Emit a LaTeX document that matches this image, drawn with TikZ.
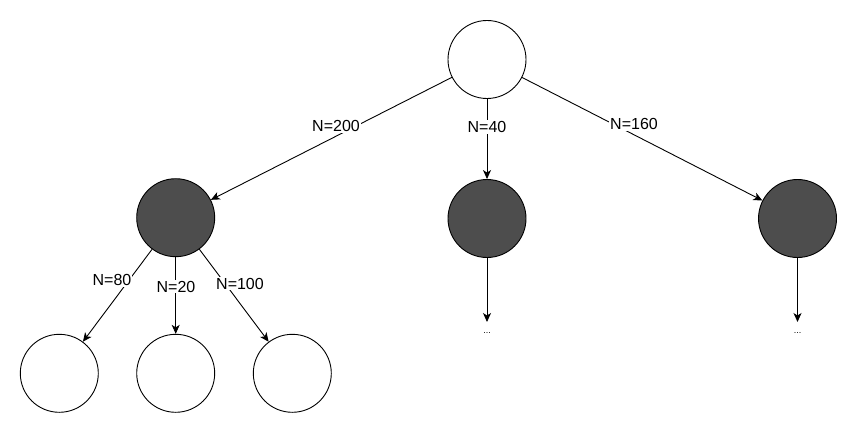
\documentclass[tikz,border=0pt]{standalone}
\usepackage{fontspec}
\setmainfont{Liberation Sans}
\usetikzlibrary{arrows.meta}
\definecolor{darkfill}{HTML}{4D4D4D}
\tikzset{
  circw/.style={circle, draw=black, line width=0.9pt, fill=white, minimum size=78pt, inner sep=0pt},
  circd/.style={circle, draw=black, line width=0.9pt, fill=darkfill, minimum size=78pt, inner sep=0pt},
  arr/.style={draw=black, line width=0.9pt, -{Stealth[length=9pt, width=8pt, inset=2.5pt]}},
  lbl/.style={fill=white, inner sep=1pt, font=\fontsize{16}{18}\selectfont},
  dots/.style={inner sep=0pt, font=\fontsize{9}{10}\selectfont}
}
\begin{document}
\begin{tikzpicture}[x=1pt, y=-1pt]
\useasboundingbox (0,0) rectangle (858,433);
% nodes
\node[circw] (root) at (487,59.5) {};
\node[circd] (l) at (175.7,217.7) {};
\node[circd] (m) at (487,218.5) {};
\node[circd] (r) at (797.5,218.5) {};
\node[circw] (b1) at (59.3,373.3) {};
\node[circw] (b2) at (175.7,373.3) {};
\node[circw] (b3) at (292.3,373.3) {};
\node[dots] (dm) at (487,333) {...};
\node[dots] (dr) at (797.5,333) {...};
\coordinate (me) at (487,322);
\coordinate (re) at (797.5,322);
% edges
\draw[arr] (root) -- (l);
\draw[arr] (root) -- (m);
\draw[arr] (root) -- (r);
\draw[arr] (l) -- (b1);
\draw[arr] (l) -- (b2);
\draw[arr] (l) -- (b3);
\draw[arr] (m) -- (me);
\draw[arr] (r) -- (re);
% labels
\node[lbl] (t200) at (336,126) {N=200};
\node[lbl] (t40) at (487,127) {N=40};
\node[lbl] (t160) at (634,124) {N=160};
\node[lbl] (t80) at (112,280) {N=80};
\node[lbl] (t20) at (176,286.5) {N=20};
\node[lbl] (t100) at (240,283.5) {N=100};
\end{tikzpicture}
\end{document}
